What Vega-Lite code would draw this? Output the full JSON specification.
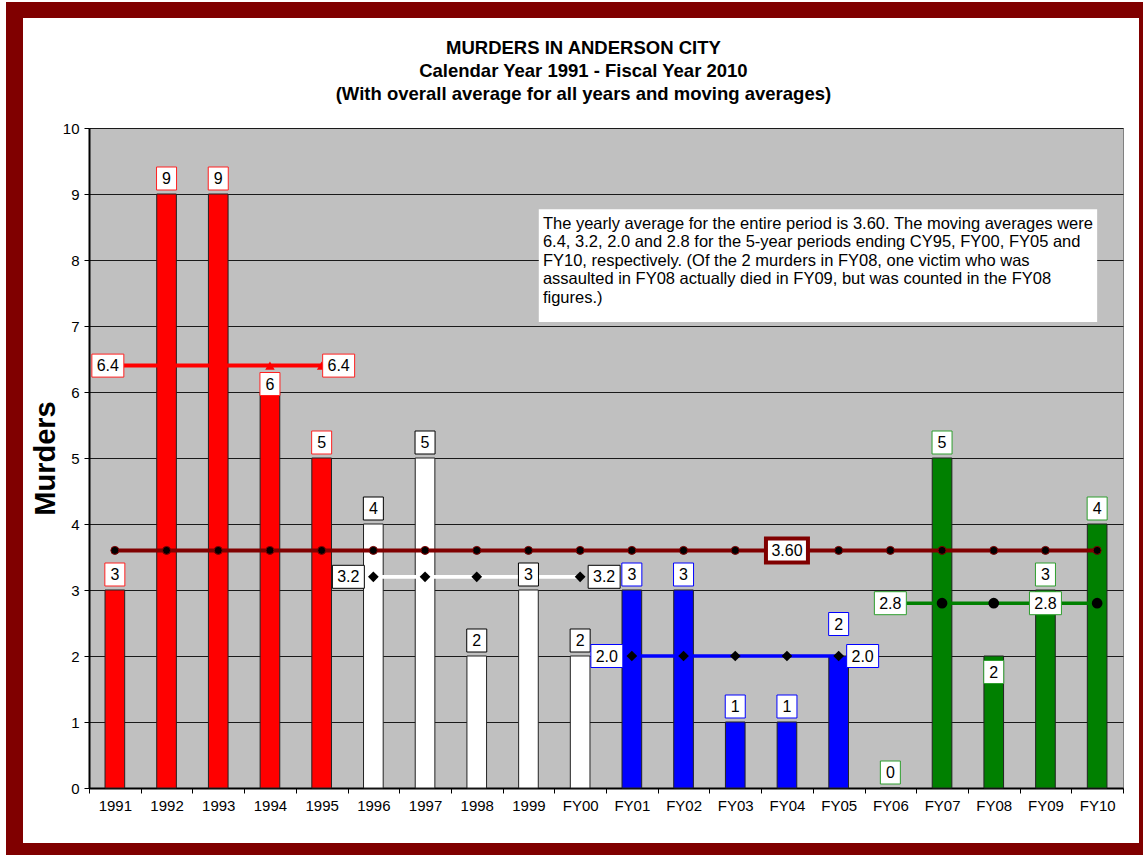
{
  "$schema": "https://vega.github.io/schema/vega-lite/v6.json",
  "background": "white",
  "padding": {"left": 6, "top": 2, "right": 0, "bottom": 0},
  "config": {"view": {"stroke": null}, "font": "Liberation Sans"},
  "spacing": 0,
  "vconcat": [
    {"width": 1137, "height": 16, "data": {"values": []}, "mark": "rect", "view": {"fill": "#800000", "stroke": null}},
    {
      "spacing": 7,
      "hconcat": [
        {"width": 17, "height": 825, "data": {"values": []}, "mark": "rect", "view": {"fill": "#800000", "stroke": null}},
        {
          "spacing": 15,
          "hconcat": [
            {
              "spacing": 19,
              "vconcat": [
                {"width": 1, "height": 1, "data": {"values": []}, "mark": "rect", "view": {"fill": null, "stroke": null}},
                {
                  "width": 1034,
                  "height": 660,
                  "view": {"fill": "#C0C0C0", "stroke": "#808080"},
                  "title": {
                    "text": ["MURDERS IN ANDERSON CITY", "Calendar Year 1991 - Fiscal Year 2010", "(With overall average for all years and moving averages)"],
                    "font": "Liberation Sans",
                    "fontSize": 18.5,
                    "fontWeight": "bold",
                    "lineHeight": 23,
                    "color": "black",
                    "anchor": "middle",
                    "frame": "bounds",
                    "dx": 6,
                    "offset": 18
                  },
                  "data": {"values": [
                    {"year": "1991", "murders": 3, "period": "CY91-CY95", "ma": 6.4, "avg": 3.6},
                    {"year": "1992", "murders": 9, "period": "CY91-CY95", "ma": 6.4, "avg": 3.6},
                    {"year": "1993", "murders": 9, "period": "CY91-CY95", "ma": 6.4, "avg": 3.6},
                    {"year": "1994", "murders": 6, "period": "CY91-CY95", "ma": 6.4, "avg": 3.6},
                    {"year": "1995", "murders": 5, "period": "CY91-CY95", "ma": 6.4, "avg": 3.6},
                    {"year": "1996", "murders": 4, "period": "CY96-FY00", "ma": 3.2, "avg": 3.6},
                    {"year": "1997", "murders": 5, "period": "CY96-FY00", "ma": 3.2, "avg": 3.6},
                    {"year": "1998", "murders": 2, "period": "CY96-FY00", "ma": 3.2, "avg": 3.6},
                    {"year": "1999", "murders": 3, "period": "CY96-FY00", "ma": 3.2, "avg": 3.6},
                    {"year": "FY00", "murders": 2, "period": "CY96-FY00", "ma": 3.2, "avg": 3.6},
                    {"year": "FY01", "murders": 3, "period": "FY01-FY05", "ma": 2.0, "avg": 3.6},
                    {"year": "FY02", "murders": 3, "period": "FY01-FY05", "ma": 2.0, "avg": 3.6},
                    {"year": "FY03", "murders": 1, "period": "FY01-FY05", "ma": 2.0, "avg": 3.6},
                    {"year": "FY04", "murders": 1, "period": "FY01-FY05", "ma": 2.0, "avg": 3.6},
                    {"year": "FY05", "murders": 2, "period": "FY01-FY05", "ma": 2.0, "avg": 3.6},
                    {"year": "FY06", "murders": 0, "period": "FY06-FY10", "ma": 2.8, "avg": 3.6},
                    {"year": "FY07", "murders": 5, "period": "FY06-FY10", "ma": 2.8, "avg": 3.6},
                    {"year": "FY08", "murders": 2, "period": "FY06-FY10", "ma": 2.8, "avg": 3.6},
                    {"year": "FY09", "murders": 3, "period": "FY06-FY10", "ma": 2.8, "avg": 3.6},
                    {"year": "FY10", "murders": 4, "period": "FY06-FY10", "ma": 2.8, "avg": 3.6}
                  ]},
                  "encoding": {
                    "x": {
                      "field": "year", "type": "ordinal", "sort": null,
                      "scale": {"paddingInner": 0, "paddingOuter": 0},
                      "axis": {
                        "title": null, "labelAngle": 0, "labelFontSize": 15, "labelColor": "black",
                        "labelFont": "Liberation Sans", "labelPadding": 5,
                        "domainColor": "black", "domainWidth": 2, "tickColor": "black", "tickSize": 5,
                        "tickBand": "extent", "grid": false
                      }
                    }
                  },
                  "layer": [
                    {
                      "mark": {"type": "bar", "width": {"band": 0.38}, "stroke": "#222222", "strokeWidth": 1},
                      "encoding": {
                        "y": {
                          "field": "murders", "type": "quantitative",
                          "scale": {"domain": [0, 10], "nice": false},
                          "axis": {
                            "title": "Murders", "titleFontSize": 29, "titleFontWeight": "bold", "titleColor": "black",
                            "titleFont": "Liberation Sans", "titlePadding": 2,
                            "values": [0, 1, 2, 3, 4, 5, 6, 7, 8, 9, 10], "format": "d",
                            "labelFontSize": 15, "labelColor": "black", "labelPadding": 5, "labelFont": "Liberation Sans",
                            "domainColor": "black", "domainWidth": 2, "tickColor": "black", "tickSize": 5,
                            "grid": true, "gridColor": "#1a1a1a", "gridWidth": 1
                          }
                        },
                        "fill": {
                          "field": "period", "type": "nominal",
                          "scale": {"domain": ["CY91-CY95", "CY96-FY00", "FY01-FY05", "FY06-FY10"], "range": ["#FF0000", "#FFFFFF", "#0000FF", "#008000"]},
                          "legend": null
                        }
                      }
                    },
                    {
                      "mark": {"type": "line", "color": "#800000", "strokeWidth": 4},
                      "encoding": {"y": {"field": "avg", "type": "quantitative"}}
                    },
                    {
                      "mark": {"type": "point", "filled": true, "fill": "black", "stroke": "#800000", "strokeWidth": 1, "size": 64, "opacity": 1},
                      "encoding": {"y": {"field": "avg", "type": "quantitative"}}
                    },
                    {
                      "mark": {"type": "line"},
                      "encoding": {
                        "y": {"field": "ma", "type": "quantitative"},
                        "color": {
                          "field": "period", "type": "nominal",
                          "scale": {"domain": ["CY91-CY95", "CY96-FY00", "FY01-FY05", "FY06-FY10"], "range": ["#FF0000", "#FFFFFF", "#0000FF", "#008000"]},
                          "legend": null
                        },
                        "strokeWidth": {
                          "field": "period", "type": "nominal",
                          "scale": {"domain": ["CY91-CY95", "CY96-FY00", "FY01-FY05", "FY06-FY10"], "range": [4, 3.5, 4, 2]},
                          "legend": null
                        }
                      }
                    },
                    {
                      "transform": [{"filter": "datum.period === 'CY91-CY95'"}],
                      "mark": {"type": "point", "shape": "triangle-up", "filled": true, "fill": "#FF0000", "size": 90, "opacity": 1},
                      "encoding": {"y": {"field": "ma", "type": "quantitative"}}
                    },
                    {
                      "transform": [{"filter": "datum.period !== 'CY91-CY95'"}],
                      "mark": {"type": "point", "filled": true, "fill": "black", "opacity": 1},
                      "encoding": {
                        "y": {"field": "ma", "type": "quantitative"},
                        "shape": {
                          "field": "period", "type": "nominal",
                          "scale": {"domain": ["CY96-FY00", "FY01-FY05", "FY06-FY10"], "range": ["diamond", "diamond", "circle"]},
                          "legend": null
                        },
                        "size": {
                          "field": "period", "type": "nominal",
                          "scale": {"domain": ["CY96-FY00", "FY01-FY05", "FY06-FY10"], "range": [115, 115, 135]},
                          "legend": null
                        }
                      }
                    },
                    {
                      "transform": [{"filter": {"not": {"field": "year", "oneOf": ["1994", "FY05", "FY08"]}}}],
                      "layer": [
                        {
                          "mark": {"type": "point", "shape": "M-0.87,-1H0.87V1H-0.87Z", "size": 529, "filled": false, "fill": "white", "fillOpacity": 1, "strokeWidth": 1, "opacity": 1, "yOffset": -15.5},
                          "encoding": {
                            "y": {"field": "murders", "type": "quantitative"},
                            "stroke": {
                              "field": "period", "type": "nominal",
                              "scale": {"domain": ["CY91-CY95", "CY96-FY00", "FY01-FY05", "FY06-FY10"], "range": ["#FF2020", "#000000", "#0000FF", "#2E9E2E"]},
                              "legend": null
                            }
                          }
                        },
                        {
                          "mark": {"type": "text", "fontSize": 16, "color": "black", "baseline": "middle", "align": "center", "yOffset": -15},
                          "encoding": {"y": {"field": "murders", "type": "quantitative"}, "text": {"field": "murders", "type": "quantitative"}}
                        }
                      ]
                    },
                    {
                      "transform": [{"filter": {"field": "year", "oneOf": ["1994"]}}],
                      "layer": [
                        {
                          "mark": {"type": "point", "shape": "M-0.87,-1H0.87V1H-0.87Z", "size": 529, "filled": false, "fill": "white", "fillOpacity": 1, "strokeWidth": 1, "opacity": 1, "yOffset": -8},
                          "encoding": {"y": {"field": "murders", "type": "quantitative"}, "stroke": {"field": "period", "type": "nominal", "legend": null}}
                        },
                        {
                          "mark": {"type": "text", "fontSize": 16, "color": "black", "baseline": "middle", "align": "center", "yOffset": -7.5},
                          "encoding": {"y": {"field": "murders", "type": "quantitative"}, "text": {"field": "murders", "type": "quantitative"}}
                        }
                      ]
                    },
                    {
                      "transform": [{"filter": {"field": "year", "oneOf": ["FY05"]}}],
                      "layer": [
                        {
                          "mark": {"type": "point", "shape": "M-0.87,-1H0.87V1H-0.87Z", "size": 529, "filled": false, "fill": "white", "fillOpacity": 1, "strokeWidth": 1, "opacity": 1, "yOffset": -32},
                          "encoding": {"y": {"field": "murders", "type": "quantitative"}, "stroke": {"field": "period", "type": "nominal", "legend": null}}
                        },
                        {
                          "mark": {"type": "text", "fontSize": 16, "color": "black", "baseline": "middle", "align": "center", "yOffset": -31.5},
                          "encoding": {"y": {"field": "murders", "type": "quantitative"}, "text": {"field": "murders", "type": "quantitative"}}
                        }
                      ]
                    },
                    {
                      "transform": [{"filter": {"field": "year", "oneOf": ["FY08"]}}],
                      "layer": [
                        {
                          "mark": {"type": "point", "shape": "M-0.87,-1H0.87V1H-0.87Z", "size": 529, "filled": false, "fill": "white", "fillOpacity": 1, "strokeWidth": 1, "opacity": 1, "yOffset": 16},
                          "encoding": {"y": {"field": "murders", "type": "quantitative"}, "stroke": {"field": "period", "type": "nominal", "legend": null}}
                        },
                        {
                          "mark": {"type": "text", "fontSize": 16, "color": "black", "baseline": "middle", "align": "center", "yOffset": 16.5},
                          "encoding": {"y": {"field": "murders", "type": "quantitative"}, "text": {"field": "murders", "type": "quantitative"}}
                        }
                      ]
                    },
                    {
                      "transform": [{"filter": {"field": "year", "oneOf": ["1991"]}}],
                      "layer": [
                        {
                          "mark": {"type": "point", "shape": "M-1.39,-1H1.39V1H-1.39Z", "size": 529, "filled": false, "fill": "white", "fillOpacity": 1, "strokeWidth": 1, "opacity": 1, "xOffset": -7},
                          "encoding": {"y": {"field": "ma", "type": "quantitative"}, "stroke": {"field": "period", "type": "nominal", "legend": null}}
                        },
                        {
                          "mark": {"type": "text", "fontSize": 16, "color": "black", "baseline": "middle", "align": "center", "xOffset": -7, "yOffset": 0.5},
                          "encoding": {"y": {"field": "ma", "type": "quantitative"}, "text": {"field": "ma", "type": "quantitative", "format": ".1f"}}
                        }
                      ]
                    },
                    {
                      "transform": [{"filter": {"field": "year", "oneOf": ["1995"]}}],
                      "layer": [
                        {
                          "mark": {"type": "point", "shape": "M-1.39,-1H1.39V1H-1.39Z", "size": 529, "filled": false, "fill": "white", "fillOpacity": 1, "strokeWidth": 1, "opacity": 1, "xOffset": 17},
                          "encoding": {"y": {"field": "ma", "type": "quantitative"}, "stroke": {"field": "period", "type": "nominal", "legend": null}}
                        },
                        {
                          "mark": {"type": "text", "fontSize": 16, "color": "black", "baseline": "middle", "align": "center", "xOffset": 17, "yOffset": 0.5},
                          "encoding": {"y": {"field": "ma", "type": "quantitative"}, "text": {"field": "ma", "type": "quantitative", "format": ".1f"}}
                        }
                      ]
                    },
                    {
                      "transform": [{"filter": {"field": "year", "oneOf": ["1996", "FY01"]}}],
                      "layer": [
                        {
                          "mark": {"type": "point", "shape": "M-1.39,-1H1.39V1H-1.39Z", "size": 529, "filled": false, "fill": "white", "fillOpacity": 1, "strokeWidth": 1, "opacity": 1, "xOffset": -25},
                          "encoding": {"y": {"field": "ma", "type": "quantitative"}, "stroke": {"field": "period", "type": "nominal", "legend": null}}
                        },
                        {
                          "mark": {"type": "text", "fontSize": 16, "color": "black", "baseline": "middle", "align": "center", "xOffset": -25, "yOffset": 0.5},
                          "encoding": {"y": {"field": "ma", "type": "quantitative"}, "text": {"field": "ma", "type": "quantitative", "format": ".1f"}}
                        }
                      ]
                    },
                    {
                      "transform": [{"filter": {"field": "year", "oneOf": ["FY00", "FY05"]}}],
                      "layer": [
                        {
                          "mark": {"type": "point", "shape": "M-1.39,-1H1.39V1H-1.39Z", "size": 529, "filled": false, "fill": "white", "fillOpacity": 1, "strokeWidth": 1, "opacity": 1, "xOffset": 24},
                          "encoding": {"y": {"field": "ma", "type": "quantitative"}, "stroke": {"field": "period", "type": "nominal", "legend": null}}
                        },
                        {
                          "mark": {"type": "text", "fontSize": 16, "color": "black", "baseline": "middle", "align": "center", "xOffset": 24, "yOffset": 0.5},
                          "encoding": {"y": {"field": "ma", "type": "quantitative"}, "text": {"field": "ma", "type": "quantitative", "format": ".1f"}}
                        }
                      ]
                    },
                    {
                      "transform": [{"filter": {"field": "year", "oneOf": ["FY06", "FY09"]}}],
                      "layer": [
                        {
                          "mark": {"type": "point", "shape": "M-1.39,-1H1.39V1H-1.39Z", "size": 529, "filled": false, "fill": "white", "fillOpacity": 1, "strokeWidth": 1, "opacity": 1},
                          "encoding": {"y": {"field": "ma", "type": "quantitative"}, "stroke": {"field": "period", "type": "nominal", "legend": null}}
                        },
                        {
                          "mark": {"type": "text", "fontSize": 16, "color": "black", "baseline": "middle", "align": "center", "yOffset": 0.5},
                          "encoding": {"y": {"field": "ma", "type": "quantitative"}, "text": {"field": "ma", "type": "quantitative", "format": ".1f"}}
                        }
                      ]
                    },
                    {
                      "transform": [{"filter": {"field": "year", "oneOf": ["FY04"]}}],
                      "layer": [
                        {
                          "mark": {"type": "point", "shape": "M-1.75,-1H1.75V1H-1.75Z", "size": 576, "filled": false, "fill": "white", "fillOpacity": 1, "stroke": "#800000", "strokeWidth": 4, "opacity": 1},
                          "encoding": {"y": {"field": "avg", "type": "quantitative"}}
                        },
                        {
                          "mark": {"type": "text", "fontSize": 16, "color": "black", "baseline": "middle", "align": "center", "yOffset": 0.5},
                          "encoding": {"y": {"field": "avg", "type": "quantitative"}, "text": {"field": "avg", "type": "quantitative", "format": ".2f"}}
                        }
                      ]
                    },
                    {
                      "data": {"values": [{}]},
                      "mark": {"type": "rect", "fill": "white", "stroke": null},
                      "encoding": {
                        "x": {"datum": "1999", "type": "ordinal", "bandPosition": 0.7},
                        "x2": {"datum": "FY10", "bandPosition": 0.5},
                        "y": {"datum": 8.77, "type": "quantitative"},
                        "y2": {"datum": 7.06}
                      }
                    },
                    {
                      "data": {"values": [{}]},
                      "mark": {
                        "type": "text", "align": "left", "baseline": "top", "fontSize": 16.5, "lineHeight": 18.5, "color": "black",
                        "text": [
                          "The yearly average for the entire period is 3.60.  The moving averages were",
                          "6.4, 3.2, 2.0 and 2.8 for the 5-year periods ending CY95, FY00, FY05 and",
                          "FY10, respectively.  (Of the 2 murders in FY08, one victim who was",
                          "assaulted in FY08 actually died in FY09, but was counted in the FY08",
                          "figures.)"
                        ]
                      },
                      "encoding": {
                        "x": {"datum": "1999", "type": "ordinal", "bandPosition": 0.78},
                        "y": {"datum": 8.67, "type": "quantitative"}
                      }
                    }
                  ]
                }
              ]
            },
            {"width": 20, "height": 825, "data": {"values": []}, "mark": "rect", "view": {"fill": "#800000", "stroke": null}}
          ]
        }
      ]
    },
    {"width": 1137, "height": 20, "data": {"values": []}, "mark": "rect", "view": {"fill": "#800000", "stroke": null}}
  ]
}
